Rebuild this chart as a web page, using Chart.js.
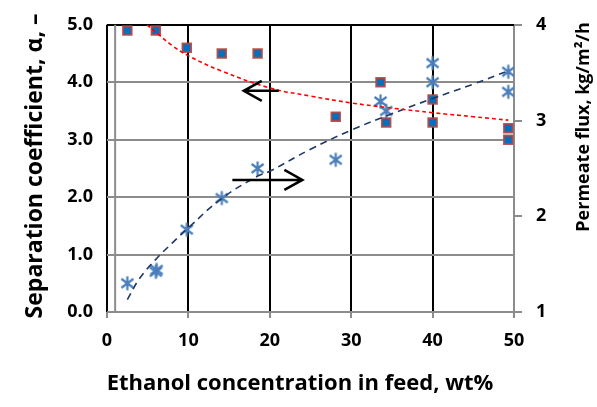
<!DOCTYPE html>
<html>
<head>
<meta charset="utf-8">
<script src="https://cdn.jsdelivr.net/npm/chart.js@4/dist/chart.umd.min.js"></script>
<style>
  html, body { margin: 0; padding: 0; background: #fff; }
  #wrap { width: 597px; height: 407px; position: relative; }
</style>
</head>
<body>
<div id="wrap"><canvas id="chart"></canvas></div>
<script>
// --- Data ---
const alphaEthanol = [2.5, 6.0, 9.8, 14.1, 18.5, 28.1, 33.6, 34.3, 40.0, 40.0, 49.3, 49.3]
const alphaValues = [4.9, 4.9, 4.6, 4.5, 4.5, 3.4, 4.0, 3.3, 3.7, 3.3, 3.2, 3.0]

const fluxEthanol = [2.5, 6.0, 6.1, 9.8, 14.1, 18.5, 28.1, 33.6, 34.3, 40.0, 40.0, 49.3, 49.3]
const fluxValues = [1.30, 1.42, 1.44, 1.86, 2.19, 2.50, 2.59, 3.20, 3.10, 3.60, 3.40, 3.51, 3.30]

// trend curves as traced on the picture
const alphaTrendX = [4.9, 6, 8, 10, 14, 20, 25, 30, 35, 40, 45, 49.3]
const alphaTrendY = [5.0, 4.87, 4.64, 4.46, 4.20, 3.90, 3.76, 3.64, 3.55, 3.47, 3.40, 3.34]
const fluxTrendX = [2.5, 4, 6, 8, 10, 14, 18.5, 20, 25, 30, 35, 40, 45, 49.3]
const fluxTrendY = [1.13, 1.35, 1.55, 1.72, 1.88, 2.18, 2.42, 2.47, 2.70, 2.90, 3.07, 3.23, 3.38, 3.52]

// arrows (left-axis units): tail -> head
const arrowLeftX = [21.1, 16.8]
const arrowLeftY = [3.85, 3.85]
const arrowRightX = [15.4, 24.0]
const arrowRightY = [2.30, 2.30]

const xTicks = [0, 10, 20, 30, 40, 50]
const alphaTicks = [0, 1, 2, 3, 4, 5]
const fluxTicks = [1, 2, 3, 4]
const extraGridX = [1]

const FONT = '"Open Sans"'
const GRAY = '#8c8c8c'

const zip = (xs, ys) => xs.map((x, i) => ({ x, y: ys[i] }))

// asterisk marker (X plus vertical bar)
function makeAsterisk() {
  const c = document.createElement('canvas')
  c.width = 17
  c.height = 17
  const g = c.getContext('2d')
  g.strokeStyle = '#4a7ebb'
  g.lineWidth = 2.2
  g.beginPath()
  g.moveTo(8.5, 1.5); g.lineTo(8.5, 15.5)
  g.moveTo(2.5, 4); g.lineTo(14.5, 13)
  g.moveTo(2.5, 13); g.lineTo(14.5, 4)
  g.stroke()
  return c
}

function arrow(ctx, x0, y0, x1, y1) {
  const dir = Math.sign(x1 - x0)
  ctx.beginPath()
  ctx.moveTo(x0, y0); ctx.lineTo(x1, y1)
  ctx.moveTo(x1 - dir * 18, y1 - 10); ctx.lineTo(x1, y1); ctx.lineTo(x1 - dir * 18, y1 + 10)
  ctx.stroke()
}

const extras = {
  id: 'extras',
  beforeDatasetsDraw(chart) {
    const { ctx, chartArea, scales } = chart
    ctx.save()
    ctx.strokeStyle = GRAY
    ctx.lineWidth = 2
    extraGridX.forEach(v => {
      const px = scales.x.getPixelForValue(v)
      ctx.beginPath()
      ctx.moveTo(px, chartArea.top); ctx.lineTo(px, chartArea.bottom)
      ctx.stroke()
    })
    ctx.restore()
  },
  afterDraw(chart) {
    const { ctx, scales } = chart
    const sx = scales.x, sy = scales.y
    ctx.save()
    ctx.strokeStyle = '#000'
    ctx.lineWidth = 2.5
    arrow(ctx, sx.getPixelForValue(arrowLeftX[0]), sy.getPixelForValue(arrowLeftY[0]),
      sx.getPixelForValue(arrowLeftX[1]), sy.getPixelForValue(arrowLeftY[1]))
    arrow(ctx, sx.getPixelForValue(arrowRightX[0]), sy.getPixelForValue(arrowRightY[0]),
      sx.getPixelForValue(arrowRightX[1]), sy.getPixelForValue(arrowRightY[1]))

    // axis titles
    ctx.fillStyle = '#000'
    ctx.textAlign = 'center'
    ctx.textBaseline = 'middle'
    ctx.font = `bold 22px ${FONT}`
    ctx.fillText('Ethanol concentration in feed, wt%', 300, 384)

    ctx.save()
    ctx.font = `bold 23px ${FONT}`
    ctx.translate(35, 166)
    ctx.rotate(-Math.PI / 2)
    ctx.fillText('Separation coefficient, \u03b1, \u2013', 0, 0)
    ctx.restore()

    ctx.save()
    ctx.font = `bold 18px ${FONT}`
    ctx.translate(584, 127)
    ctx.rotate(-Math.PI / 2)
    ctx.fillText('Permeate flux, kg/m\u00b2/h', 0, 0)
    ctx.restore()
    ctx.restore()
  }
}

const tickFont = { family: FONT, size: 18, weight: 'bold' }

new Chart(document.getElementById('chart'), {
  type: 'scatter',
  data: {
    datasets: [
      {
        label: 'alpha trend',
        type: 'line',
        data: zip(alphaTrendX, alphaTrendY),
        yAxisID: 'y',
        borderColor: '#ff0000',
        borderWidth: 1.6,
        borderDash: [4, 3],
        pointRadius: 0,
        tension: 0.4,
        fill: false
      },
      {
        label: 'flux trend',
        type: 'line',
        data: zip(fluxTrendX, fluxTrendY),
        yAxisID: 'y2',
        borderColor: '#1f3864',
        borderWidth: 1.6,
        borderDash: [7, 5],
        pointRadius: 0,
        tension: 0.4,
        fill: false
      },
      {
        label: 'Separation coefficient',
        data: zip(alphaEthanol, alphaValues),
        yAxisID: 'y',
        pointStyle: 'rect',
        pointRadius: 6,
        pointBackgroundColor: '#0070c0',
        pointBorderColor: 'rgba(176, 70, 68, 0.9)',
        pointBorderWidth: 2
      },
      {
        label: 'Permeate flux',
        data: zip(fluxEthanol, fluxValues),
        yAxisID: 'y2',
        pointStyle: makeAsterisk(),
        pointRadius: 8
      }
    ]
  },
  options: {
    responsive: true,
    maintainAspectRatio: false,
    animation: false,
    layout: { padding: { left: 0, right: 0, top: 18, bottom: 0 } },
    plugins: {
      legend: { display: false },
      tooltip: { enabled: false }
    },
    scales: {
      x: {
        type: 'linear',
        min: 0,
        max: 50,
        afterBuildTicks: s => { s.ticks = xTicks.map(v => ({ value: v })) },
        ticks: { font: tickFont, color: '#000', padding: 12, maxRotation: 0 },
        grid: {
          color: ctx => ctx.tick && ctx.tick.value === 50 ? GRAY : '#000',
          lineWidth: 2,
          tickColor: GRAY,
          tickLength: 6
        },
        border: { display: false },
        afterFit: s => { s.height = 95 }
      },
      y: {
        position: 'left',
        min: 0,
        max: 5,
        afterBuildTicks: s => { s.ticks = alphaTicks.map(v => ({ value: v })) },
        ticks: { font: tickFont, color: '#000', padding: 14, callback: v => v.toFixed(1) },
        grid: {
          color: ctx => ctx.tick && ctx.tick.value === 5 ? '#000' : GRAY,
          lineWidth: 2,
          drawTicks: false
        },
        border: { display: false },
        afterFit: s => { s.width = 107 }
      },
      y2: {
        position: 'right',
        min: 1,
        max: 4,
        afterBuildTicks: s => { s.ticks = fluxTicks.map(v => ({ value: v })) },
        ticks: { font: tickFont, color: '#000', padding: 14 },
        grid: { drawOnChartArea: false, color: GRAY, lineWidth: 2, tickLength: 8 },
        border: { display: false },
        afterFit: s => { s.width = 83 }
      }
    }
  },
  plugins: [extras]
})
</script>
</body>
</html>
